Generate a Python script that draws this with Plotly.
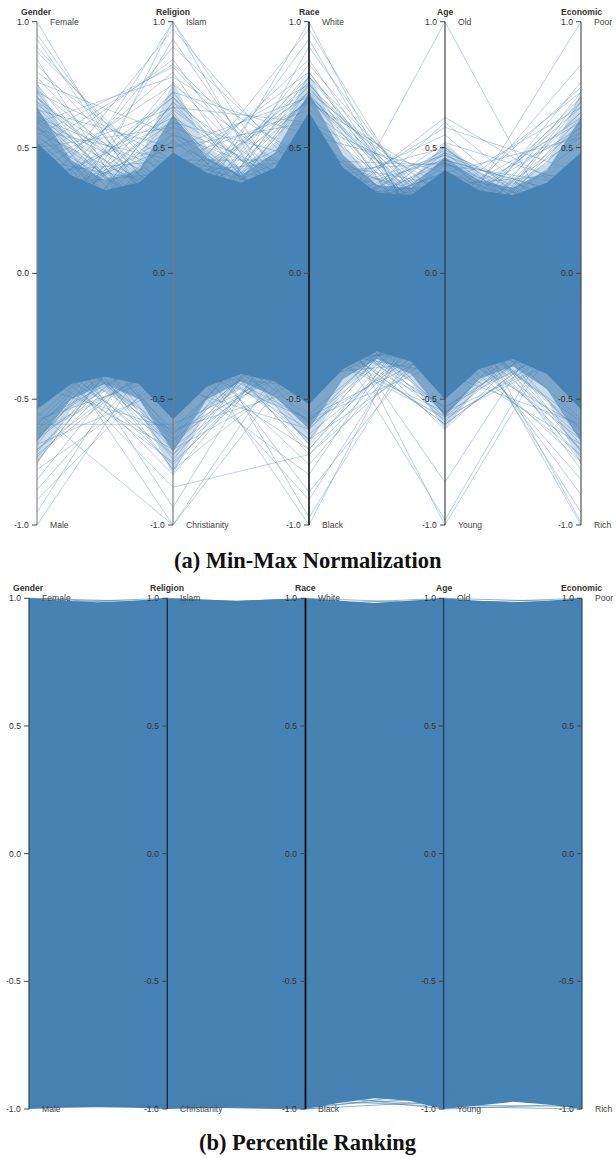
import plotly.graph_objects as go

# ---------------- data ----------------
dimensions = ["Gender", "Religion", "Race", "Age", "Economic"]
top_labels = ["Female", "Islam", "White", "Old", "Poor"]
bottom_labels = ["Male", "Christianity", "Black", "Young", "Rich"]
tick_vals = [1.0, 0.5, 0.0, -0.5, -1.0]
tick_text = ["1.0", "0.5", "0.0", "-0.5", "-1.0"]
captions = ["(a) Min-Max Normalization", "(b) Percentile Ranking"]

# (a) dense core of the min-max plot: envelope read at quarter steps between axes
band_pos = [0, 0.25, 0.5, 0.75, 1, 1.25, 1.5, 1.75, 2, 2.25, 2.5, 2.75, 3, 3.25, 3.5, 3.75, 4]
core_top_a = [0.52, 0.39, 0.33, 0.36, 0.48, 0.40, 0.36, 0.42, 0.64, 0.42, 0.32, 0.31, 0.41, 0.33, 0.31, 0.36, 0.48]
core_bot_a = [-0.54, -0.44, -0.41, -0.44, -0.58, -0.45, -0.40, -0.43, -0.52, -0.38, -0.31, -0.35, -0.50, -0.38, -0.34, -0.40, -0.54]
# (a) half-dense fringe around the core (two levels)
halo_top_a = [0.66, 0.45, 0.37, 0.41, 0.63, 0.46, 0.39, 0.48, 0.72, 0.47, 0.35, 0.34, 0.46, 0.37, 0.34, 0.41, 0.62]
halo_bot_a = [-0.67, -0.50, -0.44, -0.50, -0.71, -0.50, -0.43, -0.49, -0.62, -0.42, -0.34, -0.40, -0.57, -0.42, -0.37, -0.46, -0.67]
outer_top_a = [0.76, 0.50, 0.40, 0.45, 0.76, 0.50, 0.42, 0.52, 0.80, 0.50, 0.38, 0.37, 0.52, 0.40, 0.36, 0.44, 0.72]
outer_bot_a = [-0.76, -0.54, -0.47, -0.54, -0.80, -0.54, -0.46, -0.53, -0.68, -0.46, -0.36, -0.43, -0.62, -0.45, -0.40, -0.50, -0.76]

# (a) individual lines outside the core  (Gender, Religion, Race, Age, Economic)
gender_high_a = [
    (1.00, 0.10, 0.20, 0.05, 0.10), (0.95, 0.20, 0.05, 0.15, -0.05), (0.93, 0.15, 0.30, -0.10, 0.20),
    (0.90, 0.30, 0.10, 0.20, 0.00), (0.88, 0.35, 0.25, 0.10, 0.15), (0.85, 0.00, 0.15, 0.25, 0.30),
    (0.83, 0.25, 0.40, 0.00, 0.10), (0.80, 0.40, 0.20, 0.30, -0.10), (0.78, 0.20, 0.35, 0.15, 0.25),
    (0.76, 0.55, 0.10, 0.05, 0.20), (0.75, 0.10, 0.45, 0.20, 0.05), (0.73, 0.30, 0.05, 0.35, 0.15),
    (0.72, 0.45, 0.30, 0.10, 0.30), (0.70, 0.05, 0.25, -0.05, 0.10), (0.70, 0.25, 0.50, 0.25, 0.35),
    (0.68, 0.35, 0.15, 0.15, 0.00), (0.66, 0.15, 0.35, 0.30, 0.20), (0.65, 0.50, 0.60, 0.20, 0.25),
    (0.63, 0.20, 0.10, 0.05, 0.40), (0.62, 0.40, 0.45, 0.35, 0.10), (0.60, 0.10, 0.30, 0.20, 0.30),
    (0.60, 0.30, 0.55, 0.10, 0.05), (0.58, 0.00, 0.20, 0.40, 0.25), (0.57, 0.45, 0.65, 0.25, 0.35),
]
gender_near_a = [
    (0.72, 0.05, 0.10, 0.10, 0.15), (0.70, 0.20, -0.05, 0.20, 0.05), (0.68, 0.10, 0.20, 0.00, 0.25),
    (0.67, 0.30, 0.15, 0.25, 0.10), (0.65, -0.05, 0.30, 0.15, 0.00), (0.64, 0.25, 0.00, 0.05, 0.20),
    (0.62, 0.15, 0.25, 0.30, 0.30), (0.61, 0.35, 0.10, 0.10, 0.05), (0.59, 0.00, 0.35, 0.20, 0.15),
    (0.58, 0.20, 0.05, 0.00, 0.25), (0.56, 0.30, 0.20, 0.25, 0.10), (0.55, 0.10, 0.30, 0.15, 0.20),
    (0.54, 0.22, 0.12, 0.08, 0.12), (0.53, 0.05, 0.22, 0.18, 0.02),
]
religion_high_a = [
    (0.15, 1.00, 0.20, 0.10, 0.05), (-0.10, 1.00, 0.05, 0.20, 0.15), (0.30, 0.97, 0.35, 0.00, 0.20),
    (0.05, 0.93, 0.15, 0.30, 0.10), (0.25, 0.90, 0.40, 0.15, 0.30), (0.45, 0.85, 0.10, 0.25, 0.00),
    (0.50, 0.83, 0.30, 0.05, 0.25), (0.55, 0.82, 0.25, 0.35, 0.15), (0.35, 0.80, 0.00, 0.20, 0.35),
    (0.60, 0.78, 0.45, 0.10, 0.10), (0.10, 0.76, 0.20, 0.40, 0.20), (0.40, 0.75, 0.35, 0.25, 0.05),
    (0.20, 0.72, 0.55, 0.15, 0.30), (0.30, 0.70, 0.10, 0.30, 0.25), (0.00, 0.68, 0.30, 0.05, 0.15),
    (0.45, 0.66, 0.60, 0.35, 0.40), (0.15, 0.65, 0.25, 0.20, 0.10), (0.35, 0.62, 0.05, 0.10, 0.35),
    (0.25, 0.60, 0.45, 0.30, 0.20), (0.50, 0.58, 0.35, 0.15, 0.30),
]
religion_near_a = [
    (0.10, 0.72, 0.05, 0.10, 0.20), (0.25, 0.70, 0.20, 0.00, 0.10), (0.00, 0.68, 0.10, 0.20, 0.05),
    (0.30, 0.66, 0.25, 0.15, 0.25), (0.15, 0.64, -0.05, 0.05, 0.15), (0.05, 0.62, 0.30, 0.25, 0.00),
    (0.35, 0.60, 0.15, 0.10, 0.30), (0.20, 0.58, 0.00, 0.30, 0.20), (-0.05, 0.56, 0.20, 0.20, 0.10),
    (0.25, 0.55, 0.35, 0.05, 0.25), (0.10, 0.53, 0.10, 0.15, 0.05), (0.30, 0.52, 0.25, 0.25, 0.15),
]
race_high_a = [
    (0.20, 0.10, 1.00, -0.05, 0.15), (0.10, 0.30, 0.97, 0.10, 0.05), (0.30, 0.20, 0.93, 0.00, 0.25),
    (-0.05, -0.05, 0.90, 0.15, 0.10), (0.25, 0.35, 0.85, 0.05, 0.30), (0.05, 0.15, 0.83, 0.20, 0.20),
    (0.35, 0.40, 0.80, 0.10, 0.00), (0.15, 0.25, 0.78, 0.25, 0.35), (0.40, 0.45, 0.75, 0.15, 0.15),
    (0.20, 0.30, 0.72, 0.30, 0.25), (0.30, 0.50, 0.70, 0.05, 0.40), (0.00, 0.10, 0.70, 0.20, 0.10),
    (0.45, 0.35, 0.68, 0.35, 0.20), (0.10, 0.20, 0.69, 0.25, 0.30),
]
race_near_a = [
    (0.10, 0.15, 0.80, 0.05, 0.10), (0.20, 0.05, 0.78, 0.15, 0.20), (0.00, 0.25, 0.76, 0.00, 0.05),
    (0.25, 0.10, 0.75, 0.20, 0.25), (0.15, 0.30, 0.74, 0.10, 0.15), (0.05, 0.00, 0.73, 0.25, 0.00),
    (0.30, 0.20, 0.72, 0.05, 0.30), (0.10, 0.35, 0.71, 0.15, 0.10), (0.20, 0.15, 0.70, 0.30, 0.20),
    (0.00, 0.05, 0.70, 0.10, 0.25), (0.25, 0.25, 0.69, 0.20, 0.05), (0.15, 0.10, 0.68, 0.00, 0.15),
]
age_high_a = [
    (0.05, 0.15, 0.00, 1.00, 0.00), (0.20, 0.30, 0.20, 0.62, 0.30), (0.30, 0.05, 0.10, 0.60, 0.15),
    (0.10, 0.25, 0.25, 0.58, 0.40), (0.25, 0.40, 0.30, 0.55, 0.10), (0.15, 0.10, 0.15, 0.52, 0.35),
    (0.35, 0.20, 0.35, 0.50, 0.05), (0.00, 0.35, 0.20, 0.48, 0.25), (0.20, 0.15, 0.30, 0.47, 0.20),
    (0.40, 0.25, 0.05, 0.45, 0.30), (0.05, 0.30, 0.40, 0.44, 0.15), (0.30, 0.45, 0.45, 0.43, 0.35),
]
age_near_a = [
    (0.10, 0.15, 0.10, 0.50, 0.10), (0.20, 0.05, 0.20, 0.49, 0.20), (0.05, 0.25, 0.05, 0.48, 0.05),
    (0.25, 0.10, 0.25, 0.47, 0.25), (0.15, 0.20, 0.15, 0.46, 0.15), (0.00, 0.30, 0.00, 0.46, 0.00),
    (0.30, 0.00, 0.30, 0.45, 0.30), (0.10, 0.15, 0.10, 0.44, 0.10), (0.20, 0.25, 0.20, 0.44, 0.20),
    (0.05, 0.10, 0.05, 0.43, 0.05),
]
econ_high_a = [
    (0.10, 0.20, 0.15, 0.13, 1.00), (0.25, 0.10, 0.30, 0.20, 0.83), (0.05, 0.30, 0.20, 0.10, 0.76),
    (0.30, 0.15, 0.05, 0.25, 0.74), (0.15, 0.35, 0.25, 0.30, 0.72), (0.35, 0.05, 0.35, 0.00, 0.70),
    (0.20, 0.25, 0.10, 0.20, 0.68), (0.00, 0.40, 0.30, 0.35, 0.66), (0.40, 0.20, 0.40, 0.15, 0.64),
    (0.10, 0.10, 0.20, 0.05, 0.62), (0.25, 0.30, 0.15, 0.30, 0.60), (0.30, 0.15, 0.45, 0.25, 0.58),
    (0.15, 0.45, 0.35, 0.10, 0.56), (0.20, 0.25, 0.55, 0.40, 0.54),
]
econ_near_a = [
    (0.10, 0.15, 0.10, 0.05, 0.72), (0.20, 0.05, 0.20, 0.15, 0.70), (0.05, 0.25, 0.05, 0.00, 0.68),
    (0.25, 0.10, 0.25, 0.20, 0.66), (0.15, 0.20, 0.15, 0.10, 0.64), (0.00, 0.30, 0.00, 0.25, 0.62),
    (0.30, 0.00, 0.30, 0.05, 0.60), (0.10, 0.15, 0.10, 0.15, 0.58), (0.20, 0.25, 0.20, 0.30, 0.56),
    (0.05, 0.10, 0.05, 0.20, 0.54), (0.15, 0.20, 0.25, 0.10, 0.52),
]
gender_low_a = [
    (-1.00, -0.20, -0.10, -0.05, -0.15), (-0.95, -0.10, -0.25, 0.00, -0.20), (-0.90, -0.35, -0.05, -0.20, -0.10),
    (-0.86, -0.25, -0.30, -0.10, -0.25), (-0.82, -0.15, -0.15, -0.25, 0.00), (-0.78, -0.40, -0.35, -0.15, -0.30),
    (-0.75, -0.05, -0.20, -0.30, -0.15), (-0.72, -0.30, -0.10, -0.05, -0.35), (-0.70, -0.20, -0.40, -0.20, -0.05),
    (-0.68, -0.45, -0.25, -0.35, -0.20), (-0.66, -0.10, -0.05, -0.15, -0.30), (-0.64, -0.35, -0.30, -0.25, -0.10),
    (-0.62, -0.25, -0.15, 0.00, -0.25), (-0.60, -0.60, -0.35, -0.30, -0.40), (-0.60, -0.05, -0.20, -0.10, -0.05),
    (-0.58, -0.40, -0.45, -0.20, -0.35),
]
gender_near_low_a = [
    (-0.75, -0.05, -0.10, -0.10, -0.15), (-0.73, -0.20, 0.00, -0.20, -0.05), (-0.71, -0.10, -0.20, 0.00, -0.25),
    (-0.70, -0.30, -0.15, -0.25, -0.10), (-0.68, 0.00, -0.30, -0.15, 0.00), (-0.66, -0.25, -0.05, -0.05, -0.20),
    (-0.65, -0.15, -0.25, -0.30, -0.30), (-0.63, -0.35, -0.10, -0.10, -0.05), (-0.62, -0.05, -0.35, -0.20, -0.15),
    (-0.60, -0.20, -0.05, 0.00, -0.25), (-0.59, -0.30, -0.20, -0.25, -0.10), (-0.57, -0.10, -0.30, -0.15, -0.20),
]
religion_low_a = [
    (-0.55, -1.00, -0.20, -0.10, -0.25), (-0.20, -1.00, -0.30, -0.20, -0.10), (-0.10, -0.93, -0.05, -0.25, -0.30),
    (-0.30, -0.85, -0.72, -0.15, -0.20), (-0.25, -0.80, -0.15, -0.05, -0.15), (-0.05, -0.78, -0.35, -0.30, -0.05),
    (-0.35, -0.75, -0.25, -0.20, -0.35), (-0.15, -0.72, -0.10, -0.10, -0.20), (-0.40, -0.70, -0.40, -0.25, -0.25),
    (-0.20, -0.68, -0.20, 0.00, -0.10), (0.00, -0.66, -0.30, -0.35, -0.30), (-0.30, -0.64, -0.05, -0.15, -0.15),
    (-0.45, -0.62, -0.45, -0.05, -0.40),
]
religion_near_low_a = [
    (-0.10, -0.78, -0.05, -0.10, -0.20), (-0.25, -0.76, -0.20, 0.00, -0.10), (0.00, -0.74, -0.10, -0.20, -0.05),
    (-0.30, -0.72, -0.25, -0.15, -0.25), (-0.15, -0.70, 0.00, -0.05, -0.15), (-0.05, -0.69, -0.30, -0.25, 0.00),
    (-0.35, -0.67, -0.15, -0.10, -0.30), (-0.20, -0.66, 0.00, -0.30, -0.20), (0.00, -0.64, -0.20, -0.20, -0.10),
    (-0.25, -0.63, -0.35, -0.05, -0.25), (-0.10, -0.62, -0.10, -0.15, -0.05),
]
race_low_a = [
    (-0.10, -0.20, -1.00, 0.05, -0.10), (-0.25, -0.05, -0.97, -0.10, -0.20), (-0.05, -0.30, -0.90, -0.05, 0.00),
    (-0.30, -0.15, -0.87, -0.20, -0.25), (-0.15, -0.40, -0.80, 0.00, -0.15), (-0.35, -0.25, -0.76, -0.15, -0.30),
    (-0.20, -0.10, -0.72, -0.25, -0.05), (0.00, -0.35, -0.70, -0.10, -0.20), (-0.40, -0.20, -0.66, -0.30, -0.35),
    (-0.10, -0.45, -0.62, -0.05, -0.10), (-0.25, -0.30, -0.58, -0.35, -0.25),
]
race_near_low_a = [
    (-0.10, -0.15, -0.70, -0.05, -0.10), (-0.20, -0.05, -0.68, -0.15, -0.20), (0.00, -0.25, -0.66, 0.00, -0.05),
    (-0.25, -0.10, -0.64, -0.20, -0.25), (-0.15, -0.30, -0.62, -0.10, -0.15), (-0.05, 0.00, -0.60, -0.25, 0.00),
    (-0.30, -0.20, -0.59, -0.05, -0.30), (-0.10, -0.35, -0.58, -0.15, -0.10), (-0.20, -0.15, -0.57, -0.30, -0.20),
    (0.00, -0.05, -0.56, -0.10, -0.25),
]
age_low_a = [
    (-0.15, -0.20, 0.05, -1.00, -0.10), (-0.05, -0.10, -0.10, -0.98, -0.05), (-0.20, -0.30, -0.05, -0.83, 0.00),
    (-0.30, -0.15, -0.20, -0.60, -0.20), (-0.10, -0.25, -0.30, -0.57, -0.30), (-0.25, -0.05, -0.15, -0.55, -0.15),
    (0.00, -0.35, -0.25, -0.53, -0.25),
]
age_near_low_a = [
    (-0.10, -0.15, -0.10, -0.62, -0.10), (-0.20, -0.05, -0.20, -0.60, -0.20), (-0.05, -0.25, -0.05, -0.59, -0.05),
    (-0.25, -0.10, -0.25, -0.58, -0.25), (-0.15, -0.20, -0.15, -0.57, -0.15), (0.00, -0.30, 0.00, -0.56, 0.00),
    (-0.30, 0.00, -0.30, -0.55, -0.30), (-0.10, -0.15, -0.10, -0.54, -0.10), (-0.20, -0.25, -0.20, -0.53, -0.20),
]
econ_low_a = [
    (-0.20, -0.10, -0.15, -0.05, -1.00), (-0.05, -0.25, -0.05, 0.00, -0.99), (-0.30, -0.20, -0.25, -0.10, -0.95),
    (-0.15, -0.05, -0.10, -0.15, -0.88), (-0.25, -0.30, -0.30, -0.20, -0.82), (-0.10, -0.15, -0.20, -0.05, -0.78),
    (0.00, -0.35, -0.35, -0.25, -0.75), (-0.35, -0.10, -0.05, -0.30, -0.72), (-0.20, -0.25, -0.15, -0.10, -0.70),
    (-0.05, -0.20, -0.40, -0.35, -0.68), (-0.15, -0.40, -0.25, -0.20, -0.65), (-0.30, -0.30, -0.10, -0.15, -0.62),
    (-0.10, -0.05, -0.30, -0.40, -0.60),
]
econ_near_low_a = [
    (-0.10, -0.15, -0.10, -0.05, -0.75), (-0.20, -0.05, -0.20, -0.15, -0.73), (-0.05, -0.25, -0.05, 0.00, -0.71),
    (-0.25, -0.10, -0.25, -0.20, -0.70), (-0.15, -0.20, -0.15, -0.10, -0.68), (0.00, -0.30, 0.00, -0.25, -0.66),
    (-0.30, 0.00, -0.30, -0.05, -0.65), (-0.10, -0.15, -0.10, -0.15, -0.63), (-0.20, -0.25, -0.20, -0.30, -0.61),
    (-0.05, -0.10, -0.05, -0.20, -0.59), (-0.15, -0.20, -0.25, -0.10, -0.58),
]

# (b) percentile ranking: nearly every value fills the whole range
core_top_b = [1.0, 0.99, 0.985, 0.99, 1.0, 0.995, 0.99, 0.995, 1.0, 0.99, 0.982, 0.99, 1.0, 0.99, 0.985, 0.99, 1.0]
core_bot_b = [-1.0, -0.995, -0.993, -0.995, -1.0, -0.997, -0.995, -0.997, -1.0, -0.975, -0.958, -0.968, -1.0, -0.985, -0.972, -0.982, -1.0]
edge_lines_b = [
    (-0.99, -0.99, -1.00, -0.93, -0.99), (-0.99, -0.99, -0.94, -1.00, -0.98), (-0.99, -0.99, -0.99, -0.955, -0.96),
    (-0.99, -0.99, -0.965, -0.99, -1.00), (-0.99, -0.99, -1.00, -0.97, -0.95), (-0.99, -0.99, -0.95, -0.985, -0.99),
    (1.00, 0.975, 1.00, 0.98, 1.00), (0.98, 1.00, 0.975, 1.00, 0.985), (1.00, 0.985, 0.97, 0.99, 0.975),
]

# ---------------- figure ----------------
W, H = 616, 1158
BLUE = "#4682b4"
LINE = "rgba(70,130,180,0.36)"
HALO = "rgba(70,130,180,0.6)"
OUTER = "rgba(70,130,180,0.28)"

fig = go.Figure()


def add_lines(groups, xa, ya, color, width=1.0):
    for grp in groups:
        for row in grp:
            fig.add_trace(go.Scatter(x=list(range(len(dimensions))), y=list(row), mode="lines",
                                     line=dict(color=color, width=width), xaxis=xa, yaxis=ya,
                                     hoverinfo="skip", showlegend=False))


def add_band(top, bot, xa, ya, color):
    fig.add_trace(go.Scatter(x=band_pos + band_pos[::-1], y=top + bot[::-1], mode="lines",
                             fill="toself", fillcolor=color, line=dict(width=0),
                             xaxis=xa, yaxis=ya, hoverinfo="skip", showlegend=False))


# panel (a)
add_lines([gender_high_a, gender_near_a, religion_high_a, religion_near_a, race_high_a, race_near_a,
           age_high_a, age_near_a, econ_high_a, econ_near_a,
           gender_low_a, gender_near_low_a, religion_low_a, religion_near_low_a, race_low_a, race_near_low_a,
           age_low_a, age_near_low_a, econ_low_a, econ_near_low_a], "x", "y", LINE)
add_band(outer_top_a, outer_bot_a, "x", "y", OUTER)
add_band(halo_top_a, halo_bot_a, "x", "y", HALO)
add_band(core_top_a, core_bot_a, "x", "y", BLUE)
# panel (b)
add_band(core_top_b, core_bot_b, "x2", "y2", BLUE)
add_lines([edge_lines_b], "x2", "y2", "rgba(70,130,180,0.6)")

axis_colors_a = ["#8a8a8a", "#7a7a7a", "#111111", "#333333", "#444444"]
axis_widths_a = [1.2, 1.2, 1.6, 1.1, 1.1]
axis_colors_b = ["#2a3f52", "#15222e", "#0a0a0a", "#1f3346", "#25405a"]
axis_widths_b = [1.1, 1.2, 1.8, 1.1, 1.1]

shapes = []
annotations = []
FONT = "Liberation Sans, Arial, sans-serif"
panels = [("x", "y", axis_colors_a, axis_widths_a, 136.0),
          ("x2", "y2", axis_colors_b, axis_widths_b, 138.25)]
for xa, ya, cols, wids, ppu in panels:
    for i, name in enumerate(dimensions):
        shapes.append(dict(type="line", xref=xa, yref=ya, x0=i, x1=i, y0=-1, y1=1,
                           line=dict(color=cols[i], width=wids[i]), layer="above"))
        for v, t in zip(tick_vals, tick_text):
            shapes.append(dict(type="line", xref=xa, yref=ya, x0=i - 5.0 / ppu, x1=i, y0=v, y1=v,
                               line=dict(color="#444444", width=1), layer="above"))
            annotations.append(dict(x=i, y=v, xref=xa, yref=ya, text=t, showarrow=False,
                                    xanchor="right", yanchor="middle", xshift=-6,
                                    font=dict(family=FONT, size=8.6, color="#333333")))
        annotations.append(dict(x=i, y=1, xref=xa, yref=ya, text=name, showarrow=False,
                                xanchor="center", yanchor="middle", yshift=10,
                                font=dict(family=FONT, size=8.6, color="#333333", weight="bold")))
        annotations.append(dict(x=i, y=1, xref=xa, yref=ya, text=top_labels[i], showarrow=False,
                                xanchor="left", yanchor="middle", xshift=11,
                                font=dict(family=FONT, size=8.6, color="#444444")))
        annotations.append(dict(x=i, y=-1, xref=xa, yref=ya, text=bottom_labels[i], showarrow=False,
                                xanchor="left", yanchor="middle", xshift=11,
                                font=dict(family=FONT, size=8.6, color="#444444")))

for cap, ypx in zip(captions, [561, 1142]):
    annotations.append(dict(x=0.5, y=1 - ypx / H, xref="paper", yref="paper", text=cap,
                            showarrow=False, xanchor="center", yanchor="middle",
                            font=dict(family="Liberation Serif, Times New Roman, serif", size=22.5,
                                      color="#111111", weight="bold")))

pad_x, pad_y = 0.05, 0.03
fig.update_layout(
    width=W, height=H, margin=dict(l=0, r=0, t=0, b=0),
    paper_bgcolor="white", plot_bgcolor="rgba(0,0,0,0)",
    xaxis=dict(domain=[(37 - 136 * pad_x) / W, (581 + 136 * pad_x) / W], range=[-pad_x, 4 + pad_x],
               visible=False, anchor="y"),
    yaxis=dict(domain=[1 - (525 + 251.6 * pad_y) / H, 1 - (21.7 - 251.6 * pad_y) / H],
               range=[-1 - pad_y, 1 + pad_y], visible=False, anchor="x"),
    xaxis2=dict(domain=[(29 - 138.25 * pad_x) / W, (582 + 138.25 * pad_x) / W], range=[-pad_x, 4 + pad_x],
                visible=False, anchor="y2"),
    yaxis2=dict(domain=[1 - (1109 + 255.5 * pad_y) / H, 1 - (598.3 - 255.5 * pad_y) / H],
                range=[-1 - pad_y, 1 + pad_y], visible=False, anchor="x2"),
    shapes=shapes, annotations=annotations, showlegend=False,
)

fig.write_html("out.html", config={"displayModeBar": False},
               post_script="document.body.style.margin='0';document.body.style.padding='0';"
                           "document.body.style.overflow='hidden';")
